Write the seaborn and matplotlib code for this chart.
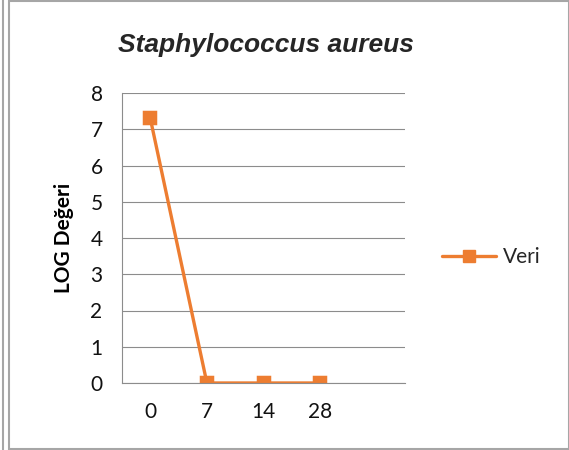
import matplotlib
matplotlib.use('Agg')
import matplotlib.pyplot as plt
import seaborn as sns
from matplotlib.patches import Rectangle
from matplotlib.lines import Line2D

# Data
days = ['0', '7', '14', '28']
log_values = [7.3, 0, 0, 0]
series_name = 'Veri'

orange = '#ED7D31'
grid_gray = '#8c8c8c'

sns.set_theme(style='white')
plt.rcParams['font.family'] = ['Lato', 'DejaVu Sans']

fig = plt.figure(figsize=(5.69, 4.5), dpi=100)
ax = fig.add_axes([0.2144, 0.1489, 0.4974, 0.6444])

sns.pointplot(x=days, y=log_values, order=days, color=orange, markers='s',
              linestyles='-', errorbar=None, markersize=8, linewidth=2.4, ax=ax)

# Excel style category axis with one empty slot at the right
ax.set_xlim(-0.5, len(days) + 0.5)
ax.set_ylim(0, 8)
ax.set_yticks(range(0, 9))
ax.yaxis.grid(True, color=grid_gray, linewidth=0.8)
ax.set_axisbelow(True)
for side in ['top', 'right']:
    ax.spines[side].set_visible(False)
for side in ['left', 'bottom']:
    ax.spines[side].set_color(grid_gray)
    ax.spines[side].set_linewidth(0.8)
ax.tick_params(axis='both', length=0, labelsize=15, colors='#111111')
ax.tick_params(axis='y', pad=14)
ax.tick_params(axis='x', pad=14)

ax.set_xlabel('')
ax.set_ylabel('LOG Değeri', fontsize=15, fontweight='bold', labelpad=12,
              color='#000000')
fig.text(0.468, 0.90, 'Staphylococcus aureus', ha='center', va='center',
         fontsize=19, fontweight='bold', fontstyle='italic',
         family=['Liberation Sans', 'DejaVu Sans'])

handle = Line2D([], [], color=orange, marker='s', markersize=8, linewidth=2.4)
fig.legend(handles=[handle], labels=[series_name], loc='center left',
           bbox_to_anchor=(0.777, 1 - 257 / 450), frameon=False,
           fontsize=15, handlelength=2.6, handletextpad=0.3,
           borderpad=0, borderaxespad=0)

# Frame lines around the chart object
fig.add_artist(Rectangle((9 / 569, 1 / 450), 1 - 9 / 569, 1 - 2 / 450,
                         transform=fig.transFigure, fill=False,
                         edgecolor='#a6a6a6', linewidth=1.5))
fig.add_artist(Line2D([2.5 / 569, 2.5 / 569], [0, 1], transform=fig.transFigure,
                      color='#a6a6a6', linewidth=1.5))

fig.savefig('out.png', dpi=100)
